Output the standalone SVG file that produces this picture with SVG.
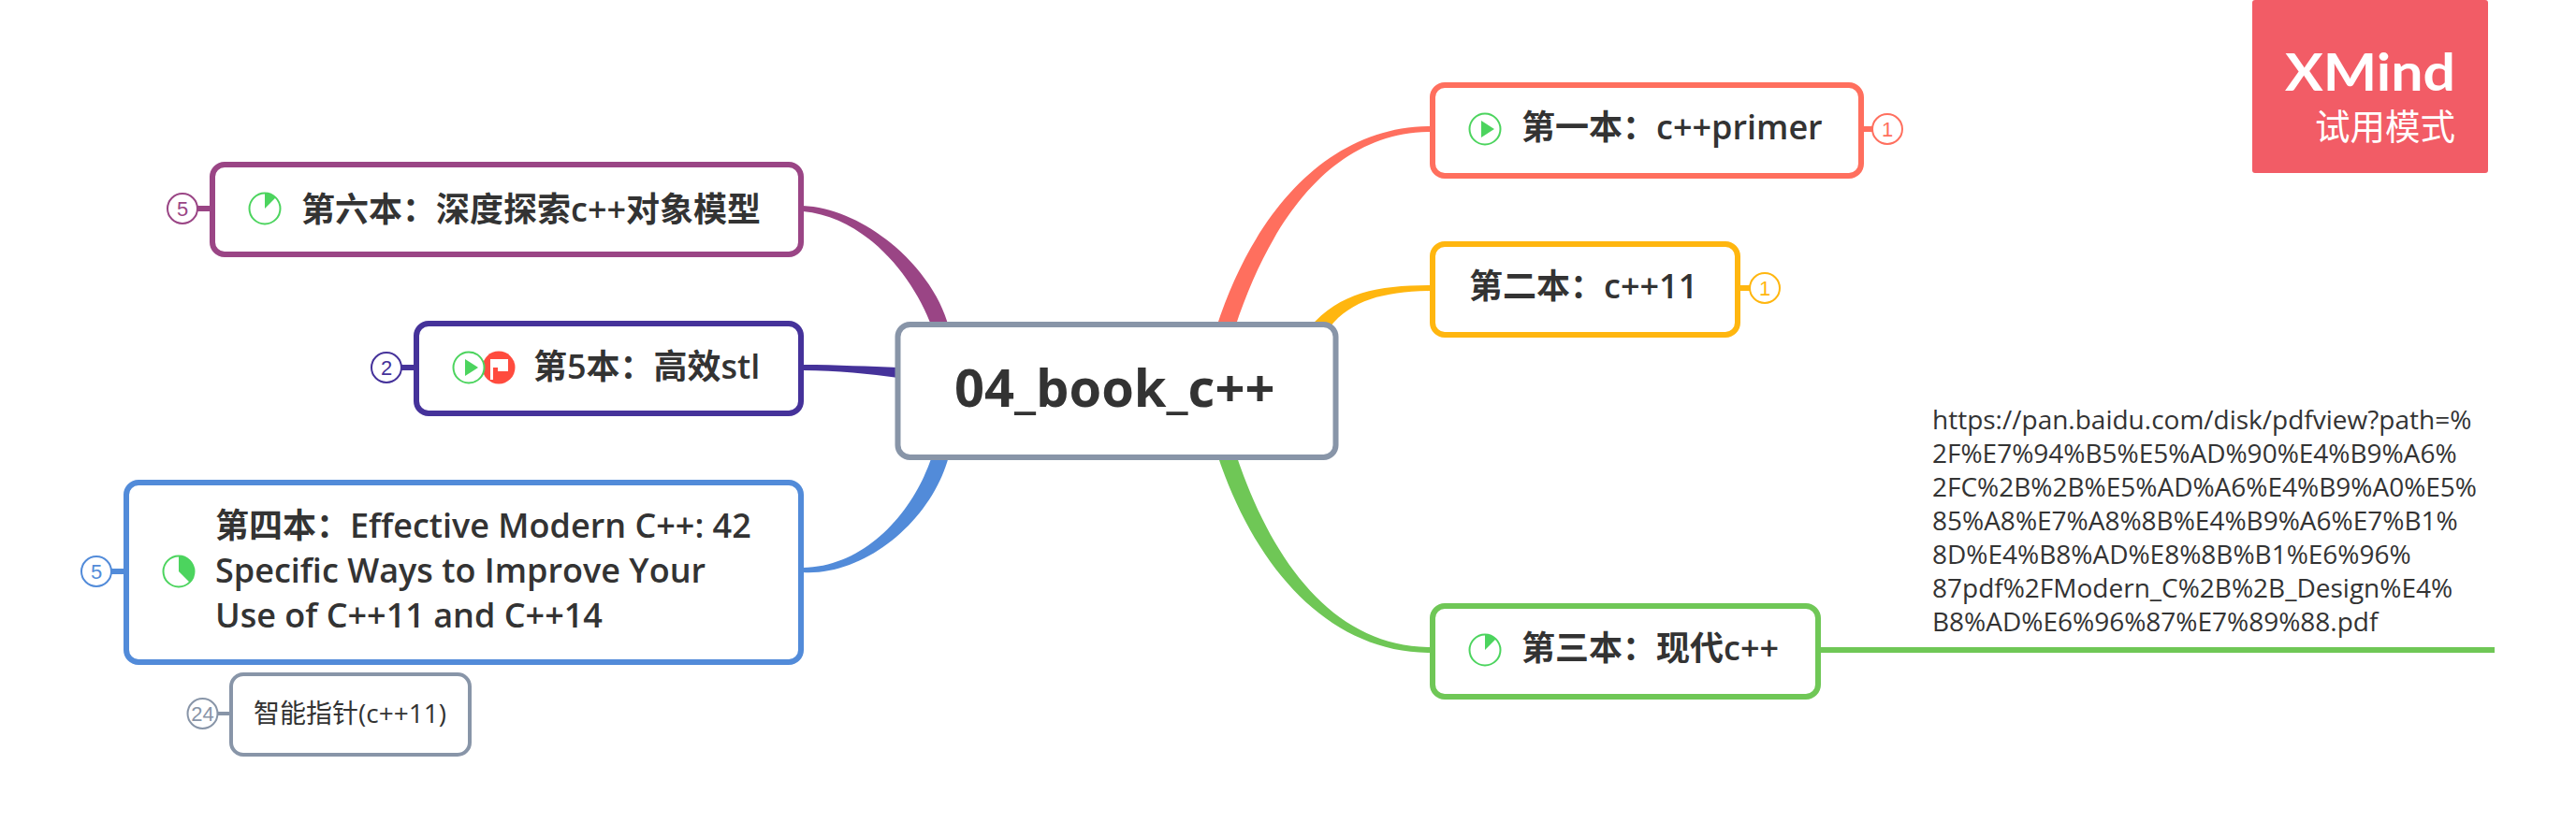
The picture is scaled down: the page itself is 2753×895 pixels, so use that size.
<svg xmlns="http://www.w3.org/2000/svg" width="2753" height="895" viewBox="0 0 2753 895">
<style>
text{font-family:"Open Sans","Noto Sans","Noto Sans CJK SC",sans-serif;fill:#333}
.t{font-size:36px;font-weight:600}
.c{font-size:56px;font-weight:700}
.s{font-size:28px;font-weight:400}
.u{font-size:28px;font-weight:400}
.n{font-family:"Liberation Sans",sans-serif;font-size:22px;text-anchor:middle}
.b{fill:#fff;stroke-width:6}
.ring{fill:#fff;stroke:#4CD45E;stroke-width:2}
.fillg{fill:#4CD45E}
.o{fill:#fff;stroke-width:2}
</style>
<rect width="2753" height="895" fill="#fff"/>
<g id="connectors">
<path fill="#FF6F5E" d="M1300 350C1340 226 1420 135 1529 135L1529 141C1425 141 1358 234 1320 350Z"/>
<path fill="#FFB60F" d="M1400 350C1432 312 1475 305 1529 305L1529 311C1480 312 1445 320 1421 350Z"/>
<path fill="#6FC756" d="M1300 483C1340 607 1420 698 1529 698L1529 692C1425 692 1358 599 1320 483Z"/>
<path fill="#9A4585" d="M996 350C976 295 925 232 858 226L858 220C925 223 998 287 1014 350Z"/>
<path fill="#45329A" d="M858 390C895 390 930 392 960 393L960 404C930 400 895 396 858 396Z"/>
<path fill="#528BD9" d="M996 488C976 548 925 606 858 607L858 612C925 616 996 556 1014 488Z"/>
<path fill="none" stroke="#6FC756" stroke-width="6" d="M1945 695H2666"/>
<path fill="none" stroke="#9A4585" stroke-width="6" d="M211 223H225"/>
<path fill="none" stroke="#45329A" stroke-width="6" d="M429 393H443"/>
<path fill="none" stroke="#528BD9" stroke-width="6" d="M119 611H133"/>
<path fill="none" stroke="#8895A8" stroke-width="4" d="M232 763H245"/>
<path fill="none" stroke="#FF6F5E" stroke-width="6" d="M1991 138H2003"/>
<path fill="none" stroke="#FFB60F" stroke-width="6" d="M1859 308H1872"/>
</g>
<g id="central">
<rect class="b" x="959.500" y="347" width="468" height="142" rx="13" stroke="#8895A8"/>
<text class="c" x="1020" y="435">04_book_c++</text>
</g>
<g id="node1">
<rect class="b" x="1531" y="91" width="458" height="97" rx="13" stroke="#FF6F5E"/>
<circle class="ring" cx="1587" cy="138" r="16.500"/>
<path class="fillg" d="M1583 129V147L1597 138Z"/>
<text class="t" x="1626" y="149">第一本：c++primer</text>
<circle class="o" cx="2017" cy="138" r="16" stroke="#FF6F5E"/>
<text class="n" x="2017" y="146" style="fill:#FF6F5E">1</text>
</g>
<g id="node2">
<rect class="b" x="1531" y="261" width="326" height="97" rx="13" stroke="#FFB60F"/>
<text class="t" x="1570" y="319">第二本：c++11</text>
<circle class="o" cx="1886" cy="308" r="16" stroke="#FFB60F"/>
<text class="n" x="1886" y="316" style="fill:#FFB60F">1</text>
</g>
<g id="node3">
<rect class="b" x="1531" y="648" width="412" height="97" rx="13" stroke="#6FC756"/>
<circle class="ring" cx="1587" cy="695" r="16.500"/>
<path class="fillg" d="M1587 678.500A16.500 16.500 0 0 1 1598.700 683.300L1587 695Z"/>
<text class="t" x="1626" y="706">第三本：现代c++</text>
</g>
<g id="url">
<text class="u" x="2065" y="459">https://pan.baidu.com/disk/pdfview?path=%</text>
<text class="u" x="2065" y="495">2F%E7%94%B5%E5%AD%90%E4%B9%A6%</text>
<text class="u" x="2065" y="531">2FC%2B%2B%E5%AD%A6%E4%B9%A0%E5%</text>
<text class="u" x="2065" y="567">85%A8%E7%A8%8B%E4%B9%A6%E7%B1%</text>
<text class="u" x="2065" y="603">8D%E4%B8%AD%E8%8B%B1%E6%96%</text>
<text class="u" x="2065" y="639">87pdf%2FModern_C%2B%2B_Design%E4%</text>
<text class="u" x="2065" y="675">B8%AD%E6%96%87%E7%89%88.pdf</text>
</g>
<g id="node6">
<rect class="b" x="227" y="176" width="629" height="96" rx="13" stroke="#9A4585"/>
<circle class="ring" cx="283" cy="223" r="16.500"/>
<path class="fillg" d="M283 206.500A16.500 16.500 0 0 1 294.700 211.300L283 223Z"/>
<text class="t" x="322" y="237">第六本：深度探索c++对象模型</text>
<circle class="o" cx="195" cy="223" r="16" stroke="#9A4585"/>
<text class="n" x="195" y="231" style="fill:#9A4585">5</text>
</g>
<g id="node5">
<rect class="b" x="445" y="346" width="411" height="96" rx="13" stroke="#45329A"/>
<circle cx="533" cy="393" r="17.500" fill="#FF4B3E"/>
<path fill="#fff" d="M524 384H543V397H532V393H527V406H524Z"/>
<circle class="ring" cx="501" cy="393" r="16.500"/>
<path class="fillg" d="M497 384V402L511 393Z"/>
<text class="t" x="570" y="405">第5本：高效stl</text>
<circle class="o" cx="413" cy="393" r="16" stroke="#45329A"/>
<text class="n" x="413" y="401" style="fill:#45329A">2</text>
</g>
<g id="node4">
<rect class="b" x="135" y="516" width="721" height="192" rx="13" stroke="#528BD9"/>
<circle class="ring" cx="191" cy="611" r="16.500"/>
<path class="fillg" d="M191 594.500A16.500 16.500 0 0 1 202.700 622.700L191 611Z"/>
<text class="t" x="230" y="575">第四本：Effective Modern C++: 42</text>
<text class="t" x="230" y="623">Specific Ways to Improve Your</text>
<text class="t" x="230" y="671">Use of C++11 and C++14</text>
<circle class="o" cx="103" cy="611" r="16" stroke="#528BD9"/>
<text class="n" x="103" y="619" style="fill:#528BD9">5</text>
</g>
<g id="subnode">
<rect x="247" y="721" width="255" height="86" rx="13" fill="#fff" stroke="#8895A8" stroke-width="4"/>
<text class="s" x="271" y="773">智能指针(c++11)</text>
<circle class="o" cx="216.500" cy="763" r="16" stroke="#8895A8"/>
<text class="n" x="216.500" y="771" style="fill:#8895A8">24</text>
</g>
<g id="watermark">
<rect x="2407" y="0" width="252" height="185" rx="3" fill="#F25C66"/>
<text x="2442" y="97" textLength="182" lengthAdjust="spacingAndGlyphs" style="font-family:Lato,sans-serif;font-size:56px;font-weight:700;fill:#fff">XMind</text>
<text x="2624" y="149" text-anchor="end" style="font-family:'Noto Sans CJK SC',sans-serif;font-size:37.500px;fill:#fff">试用模式</text>
</g>
</svg>
